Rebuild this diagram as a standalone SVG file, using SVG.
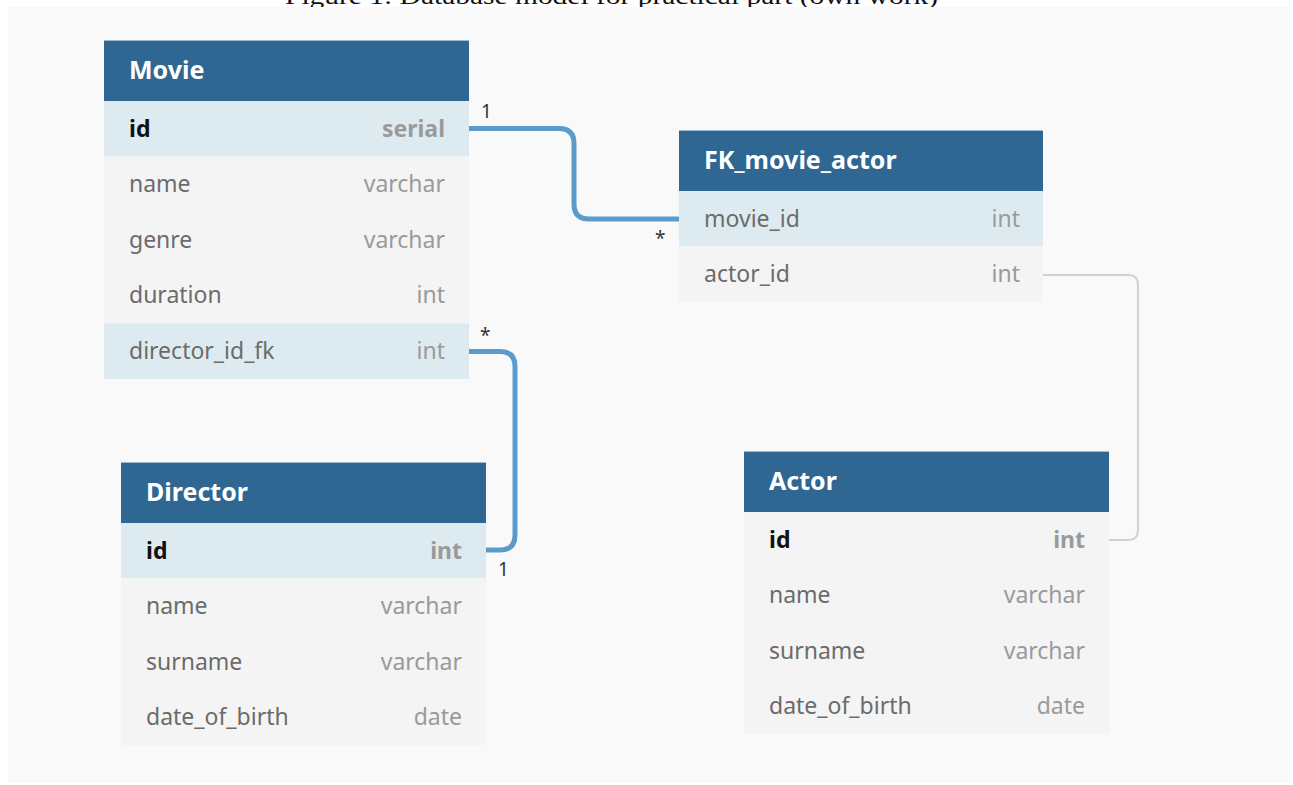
<svg xmlns="http://www.w3.org/2000/svg" width="1293" height="785" viewBox="0 0 1293 785">
  <style>
    .hdr { fill: #306792; }
    .hdr-edge { fill: #9dbdd6; }
    .row { fill: #f4f4f4; }
    .row-hl { fill: #ddebf1; }
    .title { font-family: "Noto Sans", "Open Sans", sans-serif; font-size: 25px; font-weight: bold; fill: #ffffff; }
    .fname { font-family: "Noto Sans", "Open Sans", sans-serif; font-size: 23px; fill: #6b6b6b; }
    .ftype { font-family: "Noto Sans", "Open Sans", sans-serif; font-size: 23px; fill: #9a9a9a; text-anchor: end; }
    .pk { font-weight: bold; fill: #111111; }
    .pkt { font-weight: bold; fill: #9a9a9a; }
    .rel { fill: none; stroke: #5b9bcb; stroke-width: 5; }
    .rel-soft { fill: none; stroke: #d2d2d2; stroke-width: 2; }
    .card { font-family: "Noto Sans", "Open Sans", sans-serif; font-size: 19px; fill: #333333; }
    .caption { font-family: "Liberation Serif", "Times New Roman", serif; font-size: 24px; fill: #111111; }
  </style>

  <rect x="0" y="0" width="1293" height="785" fill="#ffffff"/>
  <text class="caption" x="285" y="4" textLength="653" lengthAdjust="spacingAndGlyphs">Figure 1: Database model for practical part (own work)</text>
  <!-- canvas -->
  <rect x="8" y="7" width="1280" height="776" fill="#f9f9f9"/>

  <!-- relationships -->
  <g id="connectors">
    <path class="rel" d="M469,128.5 H559 Q574,128.5 574,143.5 V204 Q574,219 589,219 H679"/>
    <path class="rel" d="M469,351.5 H500 Q515,351.5 515,366.5 V535 Q515,550 500,550 H486"/>
    <path class="rel-soft" d="M1043,275 H1128 Q1138,275 1138,285 V530 Q1138,540 1128,540 H1109"/>
    <text class="card" x="481" y="118">1</text>
    <text class="card" x="655" y="245">*</text>
    <text class="card" x="480" y="342">*</text>
    <text class="card" x="498" y="576">1</text>
  </g>

  <!-- Movie -->
  <g id="movie" transform="translate(104,40)">
    <rect class="hdr" x="0" y="0" width="365" height="61"/>
    <rect class="hdr-edge" x="0" y="0" width="365" height="1"/>
    <text class="title" x="25" y="39">Movie</text>
    <rect class="row-hl" x="0" y="61" width="365" height="55.6"/>
    <rect class="row" x="0" y="116.6" width="365" height="166.8"/>
    <rect class="row-hl" x="0" y="283.4" width="365" height="55.6"/>
    <text class="fname pk" x="25" y="96.5">id</text>
    <text class="ftype pkt" x="341" y="96.5">serial</text>
    <text class="fname" x="25" y="152">name</text>
    <text class="ftype" x="341" y="152">varchar</text>
    <text class="fname" x="25" y="207.6">genre</text>
    <text class="ftype" x="341" y="207.6">varchar</text>
    <text class="fname" x="25" y="263.2">duration</text>
    <text class="ftype" x="341" y="263.2">int</text>
    <text class="fname" x="25" y="318.8">director_id_fk</text>
    <text class="ftype" x="341" y="318.8">int</text>
  </g>

  <!-- FK_movie_actor -->
  <g id="fk_movie_actor" transform="translate(679,130)">
    <rect class="hdr" x="0" y="0" width="364" height="61"/>
    <rect class="hdr-edge" x="0" y="0" width="364" height="1"/>
    <text class="title" x="25" y="39">FK_movie_actor</text>
    <rect class="row-hl" x="0" y="61" width="364" height="55.5"/>
    <rect class="row" x="0" y="116.5" width="364" height="55.5"/>
    <text class="fname" x="25" y="96.5">movie_id</text>
    <text class="ftype" x="341" y="96.5">int</text>
    <text class="fname" x="25" y="152">actor_id</text>
    <text class="ftype" x="341" y="152">int</text>
  </g>

  <!-- Director -->
  <g id="director" transform="translate(121,462)">
    <rect class="hdr" x="0" y="0" width="365" height="61"/>
    <rect class="hdr-edge" x="0" y="0" width="365" height="1"/>
    <text class="title" x="25" y="39">Director</text>
    <rect class="row-hl" x="0" y="61" width="365" height="55.5"/>
    <rect class="row" x="0" y="116.5" width="365" height="166.5"/>
    <text class="fname pk" x="25" y="96.5">id</text>
    <text class="ftype pkt" x="341" y="96.5">int</text>
    <text class="fname" x="25" y="152">name</text>
    <text class="ftype" x="341" y="152">varchar</text>
    <text class="fname" x="25" y="207.5">surname</text>
    <text class="ftype" x="341" y="207.5">varchar</text>
    <text class="fname" x="25" y="263">date_of_birth</text>
    <text class="ftype" x="341" y="263">date</text>
  </g>

  <!-- Actor -->
  <g id="actor" transform="translate(744,451)">
    <rect class="hdr" x="0" y="0" width="365" height="61"/>
    <rect class="hdr-edge" x="0" y="0" width="365" height="1"/>
    <text class="title" x="25" y="39">Actor</text>
    <rect class="row" x="0" y="61" width="365" height="222"/>
    <text class="fname pk" x="25" y="96.5">id</text>
    <text class="ftype pkt" x="341" y="96.5">int</text>
    <text class="fname" x="25" y="152">name</text>
    <text class="ftype" x="341" y="152">varchar</text>
    <text class="fname" x="25" y="207.5">surname</text>
    <text class="ftype" x="341" y="207.5">varchar</text>
    <text class="fname" x="25" y="263">date_of_birth</text>
    <text class="ftype" x="341" y="263">date</text>
  </g>
</svg>
